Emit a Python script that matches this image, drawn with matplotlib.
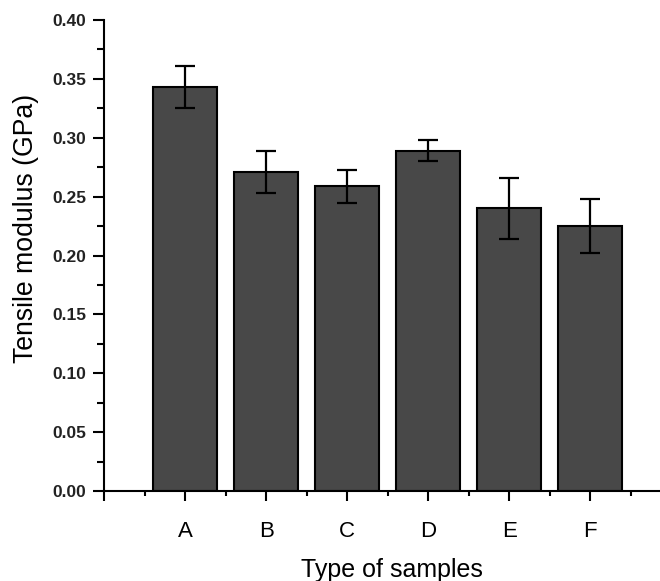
import matplotlib
matplotlib.use("Agg")
import matplotlib.pyplot as plt
from matplotlib.ticker import MultipleLocator, FormatStrFormatter

categories = ["A", "B", "C", "D", "E", "F"]
values = [0.343, 0.271, 0.259, 0.289, 0.240, 0.225]
errors = [0.018, 0.018, 0.014, 0.009, 0.026, 0.023]

plt.rcParams['font.family'] = ['Liberation Sans', 'DejaVu Sans']

fig = plt.figure(figsize=(6.6, 5.81), dpi=100)
ax = fig.add_axes([104/660, 1 - 491/581, 1 - 104/660, (491 - 20)/581])

x = list(range(1, len(categories) + 1))
ax.bar(x, values, width=0.79, color='#484848', edgecolor='black', linewidth=1.5,
       yerr=errors, capsize=7, error_kw=dict(ecolor='black', elinewidth=1.6, capthick=1.6),
       zorder=2)

ax.set_xlim(0, 6.86)
ax.set_ylim(0, 0.40)

ax.set_xticks([0] + x)
ax.set_xticklabels([''] + categories, fontsize=16)
ax.set_xticks([i + 0.5 for i in range(0, 7)], minor=True)

ax.yaxis.set_major_locator(MultipleLocator(0.05))
ax.yaxis.set_minor_locator(MultipleLocator(0.025))
ax.yaxis.set_major_formatter(FormatStrFormatter('%.2f'))

for lab in ax.get_yticklabels():
    lab.set_fontsize(12.5)
    lab.set_fontweight('bold')
    lab.set_color('#222222')

ax.spines['top'].set_visible(False)
ax.spines['right'].set_visible(False)
ax.spines['left'].set_linewidth(1.5)
ax.spines['bottom'].set_linewidth(1.5)

ax.tick_params(axis='x', which='major', direction='out', length=7, width=1.5, pad=14.5)
ax.tick_params(axis='x', which='minor', direction='out', length=3.5, width=1.5)
ax.tick_params(axis='y', which='major', direction='out', length=8, width=1.5, pad=5)
ax.tick_params(axis='y', which='minor', direction='out', length=5, width=1.5)

ax.set_ylabel('Tensile modulus (GPa)', fontsize=19.2)
ax.set_xlabel('Type of samples', fontsize=18)
ax.yaxis.set_label_coords(-0.117, 0.558)
ax.xaxis.set_label_coords(0.518, -0.143)

fig.savefig('out.png', dpi=100)
